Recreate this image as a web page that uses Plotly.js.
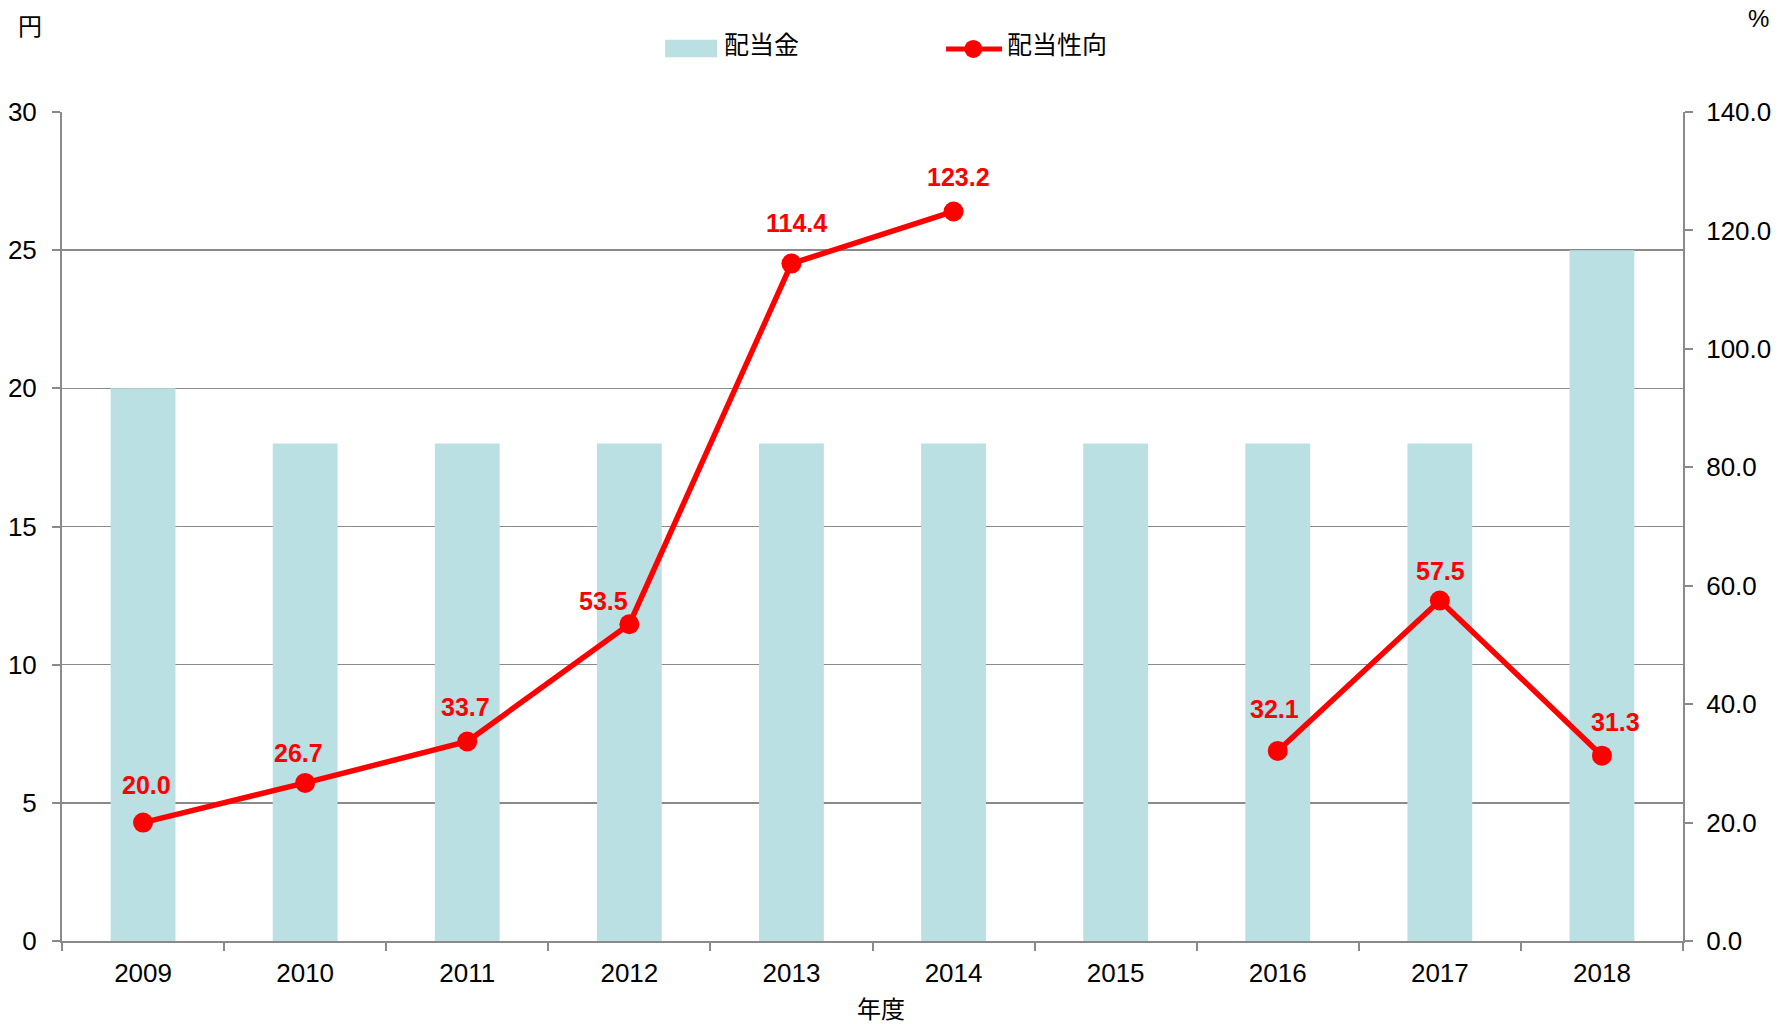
<!DOCTYPE html>
<html>
<head>
<meta charset="utf-8">
<script src="https://cdn.plot.ly/plotly-3.0.1.min.js"></script>
<style>html,body{margin:0;padding:0;background:#fff;}#chart{width:1779px;height:1024px;}</style>
</head>
<body>
<div id="chart"></div>
<script>
const years = ['2009','2010','2011','2012','2013','2014','2015','2016','2017','2018'];
const dividend = [20, 18, 18, 18, 18, 18, 18, 18, 18, 25];
const payoutRatio = [20.0, 26.7, 33.7, 53.5, 114.4, 123.2, null, 32.1, 57.5, 31.3];
const leftTicks = [0, 5, 10, 15, 20, 25, 30];
const rightTicks = [0, 20, 40, 60, 80, 100, 120, 140];
const seriesNames = ['配当金', '配当性向'];
const xTitle = '年度';
const leftUnit = '円';
const rightUnit = '%';

// label offsets (pixels) for the data labels
const labelDx = [3, -7, -2, -26, 5, 5, 0, -3, 1, 14];
const labelDy = [38, 30, 34, 23, 41, 34, 0, 42, 30, 34];

const FONT = 'Liberation Sans, Arial, Noto Sans CJK JP, sans-serif';
const CJK = 'Noto Sans CJK JP, sans-serif';
const RED = '#ff0000';
const BAR = '#bae0e3';
const GRID = '#8a8a8a';

const traces = [
  {
    type: 'bar', x: years, y: dividend, name: seriesNames[0],
    marker: {color: BAR}, yaxis: 'y', hoverinfo: 'x+y'
  },
  {
    type: 'scatter', mode: 'lines+markers', x: years, y: payoutRatio, name: seriesNames[1],
    yaxis: 'y2', connectgaps: false,
    line: {color: RED, width: 5.5},
    marker: {color: RED, size: 20}
  }
];

const annotations = [];
payoutRatio.forEach((v, i) => {
  if (v === null) return;
  annotations.push({
    x: i, y: v, xref: 'x', yref: 'y2', text: '<b>' + v.toFixed(1) + '</b>',
    showarrow: false, xshift: labelDx[i], yshift: labelDy[i],
    font: {family: FONT, size: 25, color: RED}, xanchor: 'center', yanchor: 'middle'
  });
});
annotations.push(
  {xref: 'paper', yref: 'paper', x: -0.0197, y: 1.1054, text: leftUnit, showarrow: false,
   font: {family: CJK, size: 24, color: '#000'}, xanchor: 'center', yanchor: 'middle'},
  {xref: 'paper', yref: 'paper', x: 1.0464, y: 1.1123, text: rightUnit, showarrow: false,
   font: {family: FONT, size: 24, color: '#000'}, xanchor: 'center', yanchor: 'middle'},
  {xref: 'paper', yref: 'paper', x: 0.5053, y: -0.0800, text: xTitle, showarrow: false,
   font: {family: CJK, size: 24, color: '#000'}, xanchor: 'center', yanchor: 'middle', borderpad: 0},
  {xref: 'paper', yref: 'paper', x: 0.4073, y: 1.0837, text: seriesNames[0], showarrow: false,
   font: {family: CJK, size: 25, color: '#000'}, xanchor: 'left', yanchor: 'middle'},
  {xref: 'paper', yref: 'paper', x: 0.5818, y: 1.0837, text: seriesNames[1], showarrow: false,
   font: {family: CJK, size: 25, color: '#000'}, xanchor: 'left', yanchor: 'middle'}
);

const shapes = [
  {type: 'rect', xref: 'paper', yref: 'paper', x0: 0.3721, x1: 0.4042, y0: 1.0659, y1: 1.0872,
   fillcolor: BAR, line: {width: 0}},
  {type: 'line', xref: 'paper', yref: 'paper', x0: 0.5454, x1: 0.5799, y0: 1.0761, y1: 1.0761,
   line: {color: RED, width: 5}},
  {type: 'circle', xref: 'paper', yref: 'paper', xsizemode: 'pixel', ysizemode: 'pixel',
   xanchor: 0.5622, yanchor: 1.0761, x0: -9, x1: 9, y0: -9, y1: 9,
   fillcolor: RED, line: {width: 0}}
];

const layout = {
  width: 1779, height: 1024,
  margin: {l: 62, r: 96, t: 112, b: 83, pad: 0},
  paper_bgcolor: '#fff', plot_bgcolor: '#fff',
  font: {family: FONT, size: 26, color: '#000'},
  showlegend: false,
  bargap: 0.6,
  xaxis: {
    type: 'category', range: [-0.5, years.length - 0.5], autorange: false,
    tickson: 'boundaries', ticks: 'outside', ticklen: 8, tickwidth: 2, tickangle: 0,
    tickcolor: GRID, showline: true, linecolor: GRID, linewidth: 2, showgrid: false,
    tickfont: {family: FONT, size: 26}, ticklabelstandoff: 8
  },
  yaxis: {
    range: [0, 30], autorange: false, tickvals: leftTicks, ticks: 'outside', ticklen: 8, tickwidth: 2,
    tickcolor: GRID, showline: true, linecolor: GRID, linewidth: 2,
    showgrid: true, gridcolor: GRID, gridwidth: 1.5, zeroline: false,
    tickfont: {family: FONT, size: 26}, ticklabelstandoff: 10
  },
  yaxis2: {
    range: [0, 140], autorange: false, tickvals: rightTicks, tickformat: '.1f', overlaying: 'y', side: 'right',
    ticks: 'outside', ticklen: 8, tickwidth: 2, tickcolor: GRID,
    showline: true, linecolor: GRID, linewidth: 2, showgrid: false, zeroline: false,
    tickfont: {family: FONT, size: 26}, ticklabelstandoff: 8
  },
  annotations: annotations,
  shapes: shapes
};

Plotly.newPlot('chart', traces, layout, {displayModeBar: false, staticPlot: true});
</script>
</body>
</html>
